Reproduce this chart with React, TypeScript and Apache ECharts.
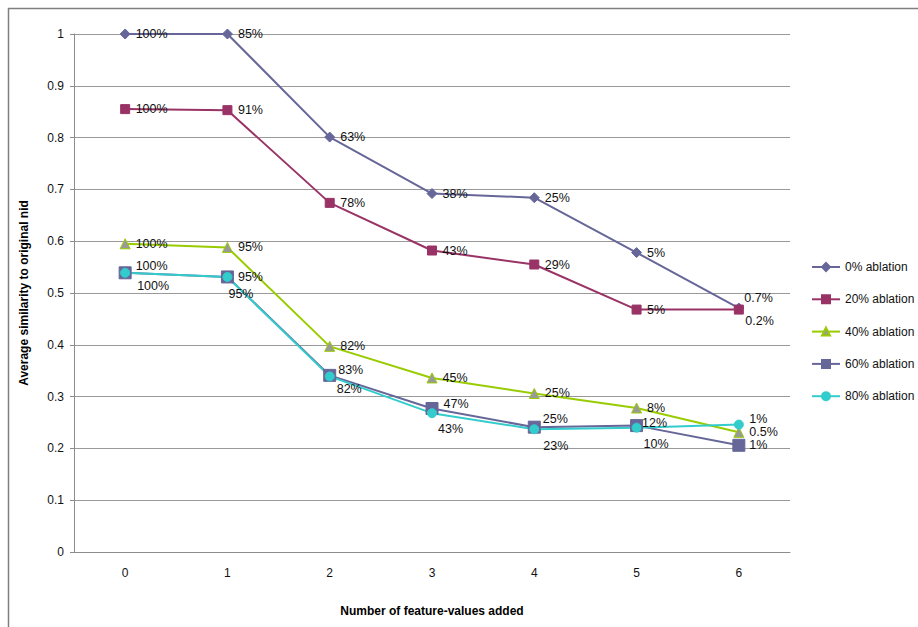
import React, { useEffect, useRef } from "react";
import * as echarts from "echarts";

// Number of feature-values added (x categories)
const categories = ["0", "1", "2", "3", "4", "5", "6"];

const seriesNames = [
  "0% ablation",
  "20% ablation",
  "40% ablation",
  "60% ablation",
  "80% ablation",
];

// Average similarity to the original nid
const ablation0 = [1.0, 1.0, 0.801, 0.692, 0.684, 0.578, 0.471];
const ablation20 = [0.855, 0.853, 0.674, 0.582, 0.555, 0.468, 0.468];
const ablation40 = [0.595, 0.588, 0.397, 0.336, 0.306, 0.278, 0.231];
const ablation60 = [0.539, 0.531, 0.341, 0.277, 0.241, 0.244, 0.206];
const ablation80 = [0.539, 0.531, 0.339, 0.268, 0.237, 0.240, 0.246];

// Percentage annotations attached to each point
const labels0 = ["100%", "85%", "63%", "38%", "25%", "5%", "0.7%"];
const labels20 = ["100%", "91%", "78%", "43%", "29%", "5%", "0.2%"];
const labels40 = ["100%", "95%", "82%", "45%", "25%", "8%", "0.5%"];
const labels60 = ["100%", "95%", "83%", "47%", "25%", "12%", "1%"];
const labels80 = ["100%", "95%", "82%", "43%", "23%", "10%", "1%"];

// Value axis range and step
const yMin = 0;
const yMax = 1;
const yStep = 0.1;

const FONT = "'Liberation Sans', Arial, sans-serif";

// Label nudges (px) so overlapping annotations stay readable
const offsets0: number[][] = [[0, 0], [0, 0], [0, 0], [0, 0], [0, 0], [0, 0], [-5, -10]];
const offsets20: number[][] = [[0, 0], [0, 0], [0, 0], [0, 0], [0, 0], [0, 0], [-4, 11]];
const offsets40: number[][] = [[0, 0], [0, 0], [0, 0], [0, 0], [0, 0], [0, 0], [0, 0]];
const offsets60: number[][] = [[0, -7], [0, 0], [-2, -5], [1, -5], [-2, -8], [-5, -3], [0, 0]];
const offsets80: number[][] = [[1.5, 13], [-9.5, 17], [-3.5, 13], [-4.5, 16], [-1.5, 17], [-3.5, 16], [0, -6]];

type Style = {
  symbol: string;
  size: number;
  line: string;
  fill: string;
  border: string;
};

const styles: Style[] = [
  { symbol: "diamond", size: 10, line: "#666699", fill: "#666699", border: "#666699" },
  { symbol: "rect", size: 9, line: "#993366", fill: "#993366", border: "#993366" },
  { symbol: "triangle", size: 10, line: "#99CC00", fill: "#999999", border: "#99CC00" },
  { symbol: "rect", size: 12, line: "#666699", fill: "#666699", border: "#666699" },
  { symbol: "circle", size: 9, line: "#33CCCC", fill: "#33CCCC", border: "#33CCCC" },
];

function buildSeries(
  name: string,
  values: number[],
  texts: string[],
  offs: number[][],
  st: Style
) {
  return {
    name,
    type: "line",
    symbol: st.symbol,
    symbolSize: st.size,
    lineStyle: { color: st.line, width: 2 },
    itemStyle: { color: st.fill, borderColor: st.border, borderWidth: 1 },
    data: values.map((v, i) => ({
      value: v,
      label: { offset: offs[i] },
    })),
    label: {
      show: true,
      position: "right",
      distance: 10 - st.size / 2,
      formatter: (p: any) => texts[p.dataIndex],
      color: "#111",
      fontSize: 12.5,
      fontFamily: FONT,
    },
    emphasis: { disabled: true },
  };
}

export default function App() {
  const ref = useRef<HTMLDivElement>(null);

  useEffect(() => {
    document.body.style.margin = "0";
    if (!ref.current) return;
    const chart = echarts.init(ref.current, undefined, { renderer: "svg" });

    chart.setOption({
      animation: false,
      backgroundColor: "#ffffff",
      textStyle: { fontFamily: FONT },
      graphic: [
        {
          type: "rect",
          shape: { x: 8.5, y: 8.5, width: 920, height: 640 },
          style: { fill: "none", stroke: "#7f7f7f", lineWidth: 1.5 },
          silent: true,
        },
      ],
      grid: { left: 74, top: 34, width: 716, height: 518, containLabel: false },
      legend: {
        orient: "vertical",
        left: 806,
        top: 255,
        itemWidth: 28,
        itemHeight: 10,
        itemGap: 18.3,
        data: seriesNames,
        textStyle: { color: "#111", fontSize: 12, lineHeight: 14, fontFamily: FONT },
      },
      xAxis: {
        type: "category",
        data: categories,
        boundaryGap: true,
        name: "Number of feature-values added",
        nameLocation: "middle",
        nameGap: 53,
        nameTextStyle: { fontWeight: "bold", fontSize: 12, color: "#000", fontFamily: FONT },
        axisLine: { show: true, lineStyle: { color: "#8c8c8c", width: 1 } },
        axisTick: { show: false },
        axisLabel: { margin: 15, fontSize: 12, color: "#111", fontFamily: FONT },
        splitLine: { show: false },
      },
      yAxis: {
        type: "value",
        min: yMin,
        max: yMax,
        interval: yStep,
        name: "Average similarity to original nid",
        nameLocation: "middle",
        nameRotate: 90,
        nameGap: 44,
        nameTextStyle: { fontWeight: "bold", fontSize: 12, color: "#000", fontFamily: FONT },
        axisLine: { show: true, lineStyle: { color: "#8c8c8c", width: 1 } },
        axisTick: { show: true, length: 4, lineStyle: { color: "#8c8c8c" } },
        axisLabel: { margin: 10, fontSize: 12, color: "#111", fontFamily: FONT },
        splitLine: { show: true, lineStyle: { color: "#999999", width: 1 } },
      },
      series: [
        buildSeries(seriesNames[0], ablation0, labels0, offsets0, styles[0]),
        buildSeries(seriesNames[1], ablation20, labels20, offsets20, styles[1]),
        buildSeries(seriesNames[2], ablation40, labels40, offsets40, styles[2]),
        buildSeries(seriesNames[3], ablation60, labels60, offsets60, styles[3]),
        buildSeries(seriesNames[4], ablation80, labels80, offsets80, styles[4]),
      ],
    });

    return () => chart.dispose();
  }, []);

  return <div ref={ref} style={{ width: 918, height: 627 }} />;
}
